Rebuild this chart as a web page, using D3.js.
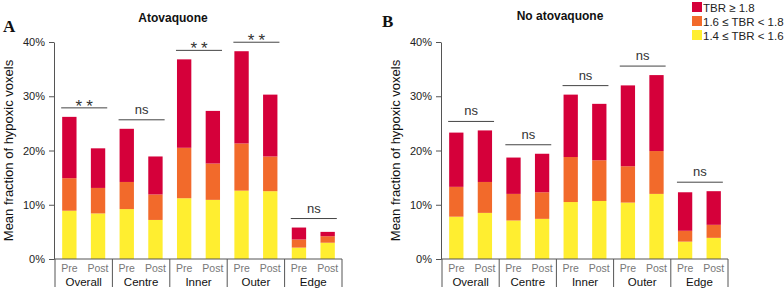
<!DOCTYPE html>
<html>
<head>
<meta charset="utf-8">
<script src="https://cdn.jsdelivr.net/npm/d3@7"></script>
<style>
  body { margin: 0; background: #fff; }
  svg { display: block; font-family: "Liberation Sans", Arial, sans-serif; }
</style>
</head>
<body>
<script>
const width = 784
const height = 288

const groups = ['Overall', 'Centre', 'Inner', 'Outer', 'Edge']
const times = ['Pre', 'Post']
const levels = ['TBR ≥ 1.8', '1.6 ≤ TBR < 1.8', '1.4 ≤ TBR < 1.6']
const colors = ['#d5003a', '#f26a2b', '#ffee30']
const yTicks = [0, 10, 20, 30, 40]

// panel A (atovaquone), order: Overall Pre, Overall Post, Centre Pre, ...
const lowA = [8.9, 8.4, 9.2, 7.2, 11.2, 10.9, 12.6, 12.5, 2.1, 3.0]
const midA = [6.0, 4.7, 5.0, 4.7, 9.3, 6.7, 8.7, 6.4, 1.5, 1.2]
const highA = [11.3, 7.3, 9.8, 7.0, 16.3, 9.7, 17.0, 11.4, 2.2, 0.8]
const sigA = ['**', 'ns', '**', '**', 'ns']

// panel B (no atovaquone)
const lowB = [7.8, 8.5, 7.1, 7.4, 10.5, 10.7, 10.4, 12.0, 3.2, 3.9]
const midB = [5.5, 5.7, 4.9, 4.9, 8.3, 7.5, 6.7, 7.9, 2.0, 2.4]
const highB = [10.0, 9.5, 6.7, 7.1, 11.5, 10.4, 14.9, 14.0, 7.1, 6.2]
const sigB = ['ns', 'ns', 'ns', 'ns', 'ns']

const svg = d3.select('body')
  .append('svg')
  .attr('width', width)
  .attr('height', height)

function drawPanel (p) {
  const g = svg.append('g')
  const keys = []
  groups.forEach(gr => times.forEach(t => keys.push(gr + '|' + t)))

  const rows = keys.map((k, i) => ({ key: k, low: p.low[i], mid: p.mid[i], high: p.high[i] }))

  const x = d3.scaleBand()
    .domain(keys)
    .range([p.left, p.right])
    .paddingInner(0.5)
    .paddingOuter(0.25)
  const xg = d3.scaleBand()
    .domain(groups)
    .range([p.left, p.right])
  const y = d3.scaleLinear()
    .domain([0, 40])
    .range([259, 42])

  // bars
  const stack = d3.stack().keys(['low', 'mid', 'high'])
  const series = stack(rows)
  const fill = { low: colors[2], mid: colors[1], high: colors[0] }
  g.append('g').selectAll('g')
    .data(series)
    .enter().append('g')
    .attr('fill', d => fill[d.key])
    .selectAll('rect')
    .data(d => d)
    .enter().append('rect')
    .attr('x', d => x(d.data.key))
    .attr('width', x.bandwidth())
    .attr('y', d => y(d[1]))
    .attr('height', d => y(d[0]) - y(d[1]))

  // y axis
  const yAxis = g.append('g')
    .attr('transform', `translate(${ p.left - 1 },0)`)
    .call(d3.axisLeft(y)
      .tickValues(yTicks)
      .tickFormat(d => d + '%')
      .tickSize(5)
      .tickSizeOuter(0)
      .tickPadding(4))
  yAxis.select('.domain').attr('stroke', '#555')
  yAxis.selectAll('.tick line').attr('stroke', '#555')
  yAxis.selectAll('.tick text')
    .attr('fill', '#222')
    .style('font-size', '11px')
    .style('font-family', '"Liberation Sans", Arial, sans-serif')

  // x axis baseline and group separators
  g.append('line')
    .attr('x1', p.left - 1).attr('x2', p.right)
    .attr('y1', y(0)).attr('y2', y(0))
    .attr('stroke', '#555')
  const edges = groups.map(gr => xg(gr)).concat([p.right])
  g.selectAll('line.sep')
    .data(edges)
    .enter().append('line')
    .attr('class', 'sep')
    .attr('x1', d => d).attr('x2', d => d)
    .attr('y1', y(0)).attr('y2', 287)
    .attr('stroke', '#555')

  g.selectAll('text.time')
    .data(keys)
    .enter().append('text')
    .attr('class', 'time')
    .attr('x', d => x(d) + x.bandwidth() / 2)
    .attr('y', 272)
    .attr('text-anchor', 'middle')
    .attr('fill', '#777')
    .style('font-size', '10.5px')
    .text(d => d.split('|')[1])

  g.selectAll('text.grp')
    .data(groups)
    .enter().append('text')
    .attr('class', 'grp')
    .attr('x', d => xg(d) + xg.bandwidth() / 2)
    .attr('y', 286)
    .attr('text-anchor', 'middle')
    .attr('fill', '#111')
    .style('font-size', '11.5px')
    .text(d => d)

  // significance brackets
  groups.forEach((gr, i) => {
    const top = Math.max(rows[i * 2].low + rows[i * 2].mid + rows[i * 2].high,
      rows[i * 2 + 1].low + rows[i * 2 + 1].mid + rows[i * 2 + 1].high)
    const ly = y(top) - 9
    const x0 = x(gr + '|Pre') - 1
    const x1 = x(gr + '|Post') + x.bandwidth() + 2
    g.append('line')
      .attr('x1', x0).attr('x2', x1)
      .attr('y1', ly).attr('y2', ly)
      .attr('stroke', '#444')
    const s = p.sig[i]
    const ns = s === 'ns'
    g.append('text')
      .attr('x', (x0 + x1) / 2)
      .attr('dx', ns ? 0 : 2)
      .attr('y', ns ? ly - 6 : ly + 4)
      .attr('text-anchor', 'middle')
      .attr('fill', '#333')
      .style('font-size', ns ? '13px' : '17px')
      .style('letter-spacing', ns ? '0px' : '4px')
      .text(s)
  })

  // axis title
  g.append('text')
    .attr('transform', `translate(${ p.left - 42 },${ (y(0) + y(40)) / 2 }) rotate(-90)`)
    .attr('text-anchor', 'middle')
    .attr('fill', '#111')
    .style('font-size', '13px')
    .text('Mean fraction of hypoxic voxels')

  // title and panel letter
  g.append('text')
    .attr('x', p.titleX)
    .attr('y', p.titleY)
    .attr('text-anchor', 'middle')
    .attr('fill', '#111')
    .style('font-size', '12px')
    .style('font-weight', 'bold')
    .text(p.title)
  g.append('text')
    .attr('x', p.letterX)
    .attr('y', p.letterY)
    .style('font-family', '"Liberation Serif", "Times New Roman", serif')
    .style('font-size', '17px')
    .style('font-weight', 'bold')
    .attr('fill', '#111')
    .text(p.letter)
}

drawPanel({
  left: 55, right: 342, low: lowA, mid: midA, high: highA, sig: sigA,
  title: 'Atovaquone', titleX: 173, titleY: 22, letter: 'A', letterX: 3, letterY: 32
})
drawPanel({
  left: 442, right: 728, low: lowB, mid: midB, high: highB, sig: sigB,
  title: 'No atovaquone', titleX: 560, titleY: 20, letter: 'B', letterX: 382, letterY: 27
})

// legend
const legend = svg.append('g')
  .attr('transform', 'translate(692,2)')
const item = legend.selectAll('g')
  .data(levels)
  .enter().append('g')
  .attr('transform', (d, i) => `translate(0,${ i * 14 })`)
item.append('rect')
  .attr('width', 10)
  .attr('height', 10)
  .attr('fill', (d, i) => colors[i])
item.append('text')
  .attr('x', 11)
  .attr('y', 9.5)
  .attr('fill', '#222')
  .style('font-size', '11.5px')
  .text(d => d)
</script>
</body>
</html>
